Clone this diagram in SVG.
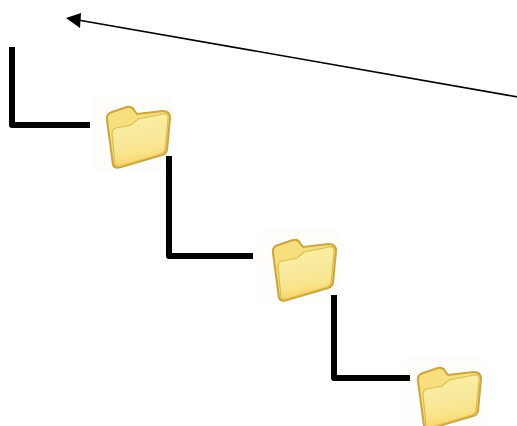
<svg xmlns="http://www.w3.org/2000/svg" width="517" height="426" viewBox="0 0 517 426">
<defs>
<linearGradient id="fg" x1="0.3" y1="0" x2="0.5" y2="1"><stop offset="0" stop-color="#fdf0a0"/><stop offset=".45" stop-color="#f7e99c"/><stop offset=".75" stop-color="#fbe48a"/><stop offset="1" stop-color="#f5cd5a"/></linearGradient>
<g id="folder">
<rect x="0" y="0" width="82" height="75" fill="#fefdf9"/>
<path d="M22 69L16 24Q15 18 21 16L36 11Q41 10 43 14L46 18L72 15Q79 15 79 22L76 54Q75 58 71 59L30 71Q24 73 22 69Z" fill="#f7df80" stroke="#c9a63f" stroke-width="2"/>
<path d="M24 69L21 37Q21 33 25 32L40 29L47 23L72 18Q78 17 77 23L74 54Q73 57 70 58L30 70Q25 71 24 69Z" fill="url(#fg)" stroke="#dcbb55" stroke-width="1.2"/>
</g>
<style>.c{fill:none;stroke:#000;stroke-width:6;stroke-linejoin:round}.a{fill:none;stroke:#000;stroke-width:1.6}</style>
</defs>
<g id="folder1"><use href="#folder" x="91" y="96"/></g>
<g id="folder2"><use href="#folder" x="257" y="229"/></g>
<g id="folder3"><use href="#folder" x="402" y="357"/></g>
<g id="connectors">
<path class="c" d="M12 47V125H90"/>
<path class="c" d="M169 156V256H253"/>
<path class="c" d="M334 295V378H410"/>
<path d="M518 97L78 20" class="a"/>
<path d="M66 18L81 13L80 28Z" fill="#000"/>
</g>
</svg>
